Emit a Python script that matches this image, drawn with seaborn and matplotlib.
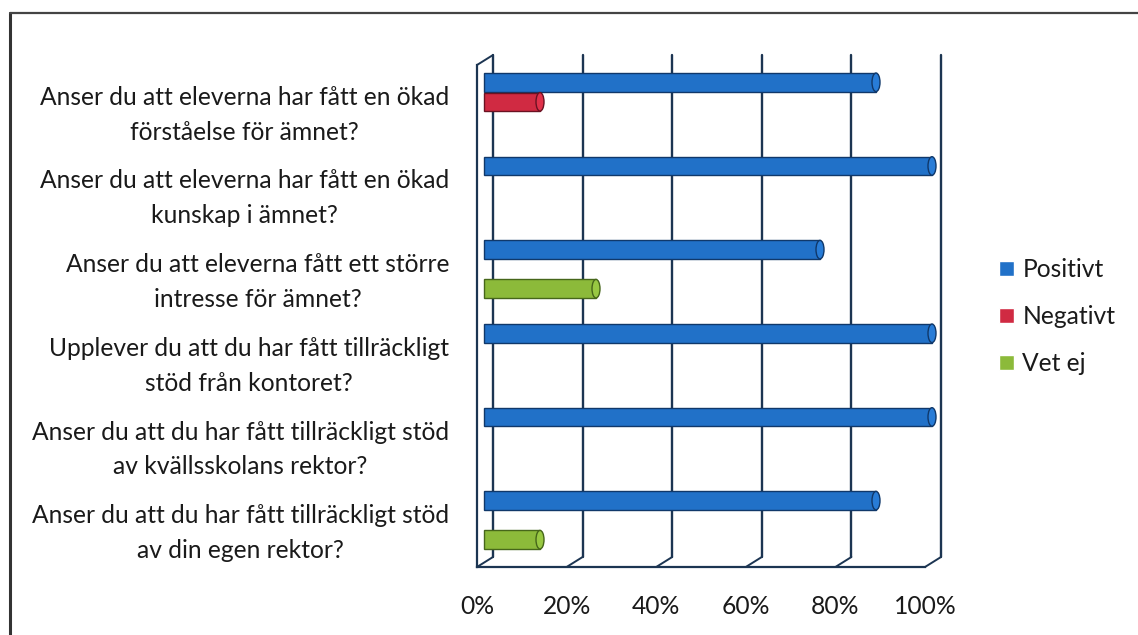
import pandas as pd
import seaborn as sns
import matplotlib.pyplot as plt
from matplotlib.lines import Line2D
from matplotlib.patches import Ellipse, Rectangle
from matplotlib.transforms import ScaledTranslation
import matplotlib.colors as mcolors

questions = [
    'Anser du att eleverna har fått en ökad\nförståelse för ämnet?',
    'Anser du att eleverna har fått en ökad\nkunskap i ämnet?',
    'Anser du att eleverna fått ett större\nintresse för ämnet?',
    'Upplever du att du har fått tillräckligt\nstöd från kontoret?',
    'Anser du att du har fått tillräckligt stöd\nav kvällsskolans rektor?',
    'Anser du att du har fått tillräckligt stöd\nav din egen rektor?',
]
positivt = [0.875, 1.0, 0.75, 1.0, 1.0, 0.875]
negativt = [0.125, 0.0, 0.0, 0.0, 0.0, 0.0]
vet_ej = [0.0, 0.0, 0.25, 0.0, 0.0, 0.125]
answers = ['Positivt', 'Negativt', 'Vet ej']
colors = ['#2171c8', '#d02a42', '#8cba3a']
edge_colors = ['#10386a', '#6a1222', '#46661a']
x_ticks = [0, 0.2, 0.4, 0.6, 0.8, 1.0]
x_labels = ['0%', '20%', '40%', '60%', '80%', '100%']

df = pd.DataFrame({'question': questions, 'Positivt': positivt,
                   'Negativt': negativt, 'Vet ej': vet_ej})
df = df.melt(id_vars='question', var_name='svar', value_name='andel')

sns.set_style('white')
plt.rcParams['font.family'] = ['Lato', 'DejaVu Sans']

W, H = 1138, 635
navy = '#1c3552'
fs = 17.7
fig = plt.figure(figsize=(W / 100, H / 100), dpi=100)
ax = fig.add_axes([477 / W, 1 - 567 / H, 448 / W, 502 / H])

sns.barplot(data=df, y='question', x='andel', hue='svar', hue_order=answers,
            palette=colors, saturation=1, orient='h', width=0.7, gap=0.05,
            errorbar=None, legend=False, ax=ax, zorder=3)

# fake 3d: bars sit halfway into the depth
shift = ax.transData + ScaledTranslation(0.07, 0.05, fig.dpi_scale_trans)
cap_w = 8 / 448
for cont, fc, ec in zip(ax.containers, colors, edge_colors):
    for bar in cont:
        bar.set_transform(shift)
        bar.set_clip_on(False)
        bar.set_edgecolor(ec)
        bar.set_linewidth(1.0)
        if bar.get_width() <= 0:
            bar.set_visible(False)
            continue
        light = mcolors.to_rgb(fc)
        light = tuple(min(1, c * 1.05 + 0.02) for c in light)
        cap = Ellipse((bar.get_width(), bar.get_y() + bar.get_height() / 2),
                      cap_w, bar.get_height(), facecolor=light, edgecolor=ec,
                      linewidth=1.0, transform=shift, zorder=4, clip_on=False)
        ax.add_patch(cap)

ax.set_xlim(0, 1)
ax.set_ylim(5.5, -0.5)

# back wall and floor lines
dx, dy = 16 / 448, 10 / 502
for x in x_ticks:
    ax.plot([x + dx, x + dx], [dy, 1 + dy], color=navy, lw=1.7,
            transform=ax.transAxes, clip_on=False, zorder=1)
    ax.plot([x, x + dx], [0, dy], color=navy, lw=1.4,
            transform=ax.transAxes, clip_on=False, zorder=1)
ax.plot([0, dx], [1, 1 + dy], color=navy, lw=1.4,
        transform=ax.transAxes, clip_on=False, zorder=1)

for side in ['top', 'right']:
    ax.spines[side].set_visible(False)
for side in ['left', 'bottom']:
    ax.spines[side].set_color(navy)
    ax.spines[side].set_linewidth(1.6)

ax.set_xticks(x_ticks)
ax.set_xticklabels(x_labels)
ax.set_yticks(range(len(questions)))
ax.set_yticks([i - 0.5 for i in range(len(questions) + 1)], minor=True)
ax.tick_params(axis='x', length=5, width=1.4, color='#222222', pad=15,
               labelsize=fs, labelcolor='#1a1a1a')
ax.tick_params(axis='y', which='major', length=0, pad=20, labelsize=fs,
               labelcolor='#1a1a1a')
ax.tick_params(axis='y', which='minor', length=4.5, width=1.4, color='#222222')
for t in ax.get_yticklabels():
    t.set_multialignment('center')
    t.set_linespacing(1.62)
ax.set_xlabel('')
ax.set_ylabel('')
ax.grid(False)

handles = [Rectangle((0, 0), 1, 1, facecolor=c) for c in colors]
fig.legend(handles, answers, loc='upper left', bbox_to_anchor=(977 / W, 1 - 236 / H),
           frameon=False, fontsize=fs, handlelength=0.6, handleheight=0.6,
           handletextpad=0.35, labelspacing=0.98, labelcolor='#1a1a1a')

# scanned page border (left and top only)
fig.add_artist(Line2D([10 / W, 10 / W], [0, 1 - 13 / H], color='#333333', lw=2.2,
                      transform=fig.transFigure))
fig.add_artist(Line2D([10 / W, 1], [1 - 13 / H, 1 - 13 / H], color='#444444', lw=1.6,
                      transform=fig.transFigure))

fig.savefig('out.png', dpi=100)
